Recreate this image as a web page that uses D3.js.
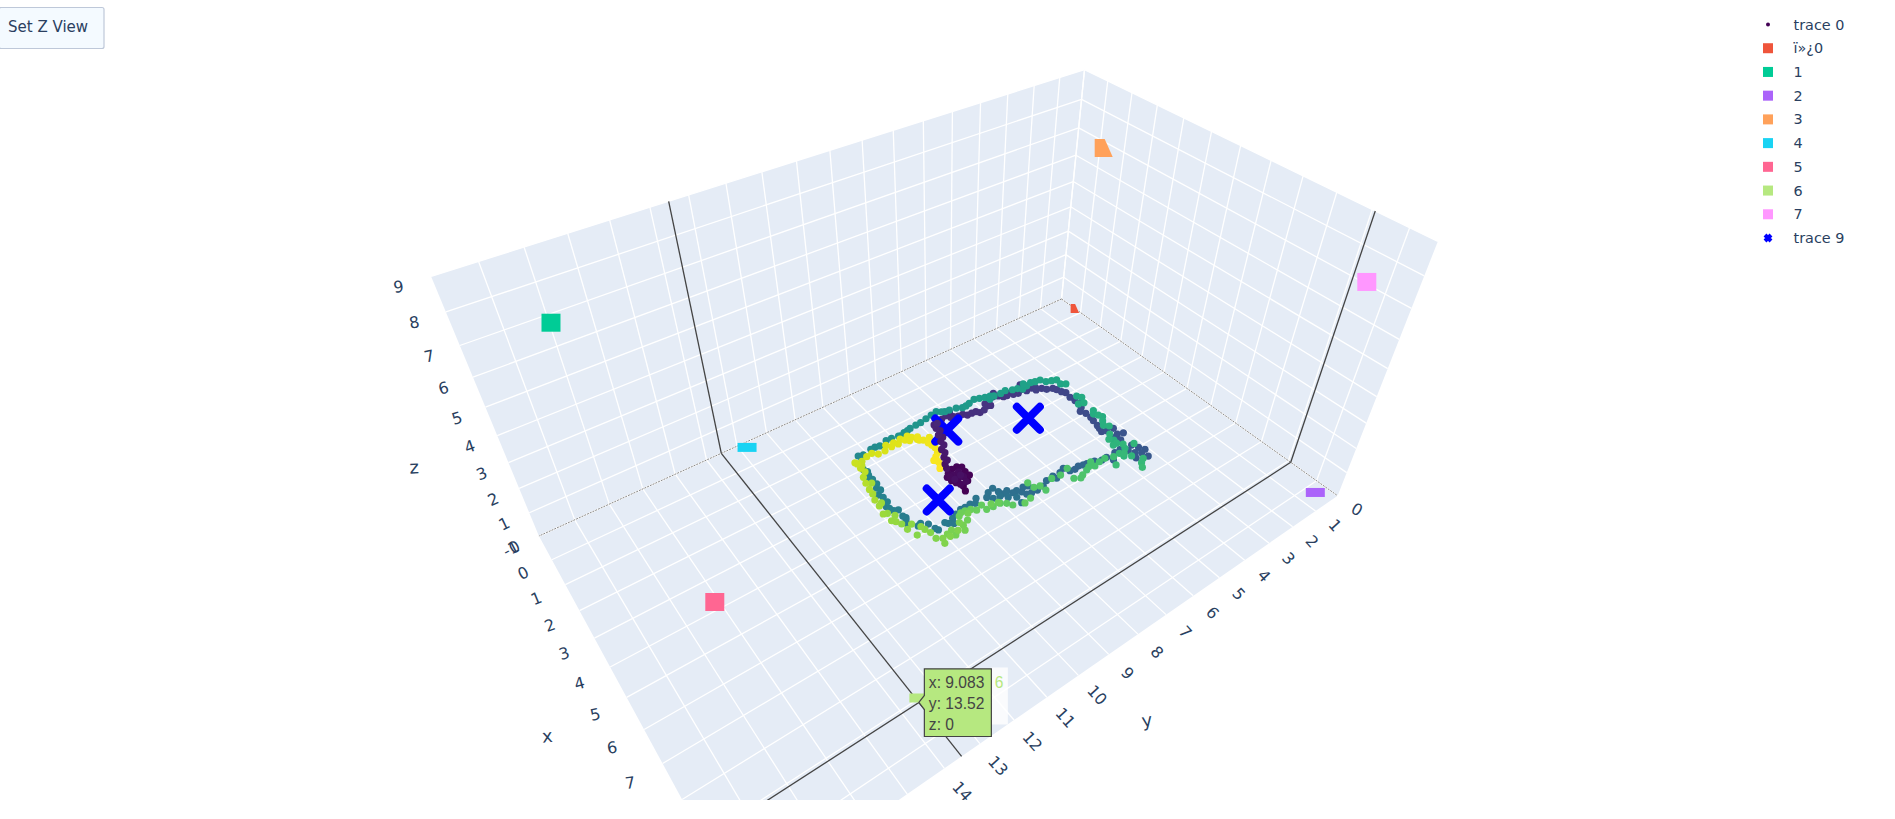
<!DOCTYPE html>
<html><head><meta charset="utf-8"><style>html,body{margin:0;background:#fff;overflow:hidden}svg{display:block}</style>
<script src="https://d3js.org/d3.v7.min.js"></script></head><body>
<svg id="c" width="1895" height="819"></svg>
<script>
// ---------- data ----------
const xTicks=[-1,0,1,2,3,4,5,6,7,8,9,10];
const yTicks=[0,1,2,3,4,5,6,7,8,9,10,11,12,13,14,15,16,17,18];
const zTicks=[0,1,2,3,4,5,6,7,8,9];
const xLabelTicks=[-1,0,1,2,3,4,5,6,7];
const yLabelTicks=[0,1,2,3,4,5,6,7,8,9,10,11,12,13,14];
const traceX=[4.41,4.22,4.13,3.98,3.80,3.60,3.50,3.50,3.57,3.68,3.86,4.00,4.12,3.90,3.71,3.69,3.93,4.13,3.70,3.87,3.83,
3.38,3.21,3.12,2.97,2.83,2.66,2.55,2.38,2.26,2.11,1.98,1.83,1.67,1.67,
1.50,1.72,1.78,1.80,1.91,1.92,1.94,2.05,2.03,1.93,1.82,1.58,1.77,1.89,1.86,1.99,2.04,1.76,2.10,2.10,2.25,2.29,2.42,2.50,
2.78,2.90,3.14,3.35,3.54,3.99,4.21,4.37,4.73,4.88,4.94,4.98,5.23,5.30,5.30,5.48,5.83,6.02,6.19,6.24,6.12,5.94,5.76,5.77,
5.97,5.77,5.77,5.55,5.59,5.55,5.36,5.44,5.55,5.42,5.45,5.56,5.58,5.56,5.52,5.37,5.25,5.25,5.09,5.10,4.98,4.78,4.84,4.96,5.09,5.14,5.31,5.45,5.69,4.81,4.88,4.90,4.89,4.95,5.02,5.19,5.10,5.02,5.13,5.03,4.80,4.65,4.69,4.32,4.15,3.89,3.84,3.70,3.46,3.25,2.97,2.71,2.49,2.28,
2.00,1.59,1.45,1.50,1.43,1.43,1.47,1.39,1.40,1.44,1.42,1.37,1.35,1.35,
1.22,1.38,1.40,1.55,1.51,1.45,1.51,1.58,1.74,1.69,1.72,1.70,1.97,1.92,1.87,1.92,1.95,2.12,2.19,2.26,2.48,2.58,
3.22,3.36,3.53,3.59,4.03,4.27,4.54,4.83,5.36,5.51,5.51,5.81,5.82,6.16,6.03,5.87,6.43,6.53,6.68,6.16,5.87,
5.77,5.78,5.83,5.63,5.81,5.89,5.84,5.43,5.52,5.47,5.72,5.50,5.44,5.20,5.61,5.46,5.35,5.34,5.31,5.10,5.17,5.05,5.00,4.99,5.06,5.31,5.39,5.56,5.55,5.34,5.39,5.61,5.44,5.33,5.08,4.90,4.94,4.53,4.62,4.37,4.21,4.11,3.82,
3.77,3.46,3.20,2.97,2.77,2.51,2.27,2.11,1.92,1.71,1.63,
1.62,1.59,1.73,1.73,1.70,1.72,1.70,1.72,1.89,2.02,2.03,2.34,2.48,2.70,2.81,3.02,3.27,
1.30,1.26,1.33,1.45,1.62,1.80,1.85,1.55,1.78,
1.60,1.55,1.70,1.98,1.70,1.92,1.95,2.15,2.62,
3.70,3.82,4.60,4.15,4.40,4.70,5.10,5.25,5.65,5.95,6.30,6.45,
5.68,5.62,5.60,5.75,5.95,5.30,5.25,5.70,5.75,5.15,5.30,5.22,4.95,5.12,5.25,5.45,5.50,4.75,4.45,4.25,4.00,3.60,3.40,3.10,2.85,2.60,2.40,2.15,1.85,1.70,
1.55,1.60,1.58,1.60,1.80,1.48,1.40,1.80,1.95,2.20,3.15,2.90];
const traceY=[8.54,8.47,8.24,8.06,8.08,8.05,8.16,8.34,8.52,8.64,8.62,8.56,8.49,8.40,8.44,8.24,8.24,8.30,8.56,8.51,8.27,
8.44,8.37,8.22,8.23,8.09,8.09,7.92,7.91,7.75,7.80,7.64,7.68,7.64,7.52,
6.92,6.93,6.79,6.63,6.53,6.37,6.22,6.14,5.96,5.78,5.76,5.23,5.18,5.07,4.84,4.74,4.58,4.27,4.28,4.07,4.01,3.81,3.71,3.52,
3.40,3.32,3.36,3.34,3.30,3.47,3.47,3.51,3.60,3.65,3.49,3.25,3.33,3.14,3.49,3.43,3.32,3.22,3.12,3.31,3.47,3.57,3.73,3.96,
4.21,4.30,4.49,5.23,5.40,5.56,5.65,5.85,6.08,6.11,6.38,6.60,6.84,7.04,7.19,7.25,7.34,7.48,7.57,7.77,7.79,7.84,8.05,8.20,8.07,7.86,7.70,7.50,7.52,8.47,8.74,8.93,9.08,9.29,9.46,9.54,9.67,9.73,10.03,10.07,10.13,10.29,10.40,10.55,10.54,10.51,10.63,10.68,10.59,10.59,10.49,10.45,10.45,10.45,
10.45,10.24,10.27,10.12,9.81,9.66,9.51,9.23,9.04,8.81,8.59,8.33,8.10,7.92,
7.23,7.01,6.85,6.31,6.15,5.91,5.74,5.57,5.50,5.29,5.04,4.84,4.34,4.13,3.92,3.77,3.58,3.48,3.30,3.14,3.17,3.03,
3.15,3.06,3.36,3.18,3.19,3.21,3.28,3.28,3.60,3.63,3.77,3.58,3.21,3.65,3.84,3.87,3.44,3.61,3.73,4.29,4.11,
4.37,4.60,4.83,4.81,5.14,5.37,5.67,5.56,5.90,6.20,6.64,6.67,6.85,6.88,7.78,7.88,8.03,8.27,8.48,8.50,8.73,8.85,9.01,9.15,9.26,9.16,9.37,9.44,9.75,9.74,9.92,10.17,10.11,10.26,10.26,10.32,10.61,10.51,10.71,10.73,10.81,10.89,10.83,
10.94,10.86,10.84,10.76,10.74,10.69,10.62,10.46,10.49,10.47,10.50,
10.08,9.88,9.74,9.50,9.24,9.01,8.75,8.52,8.43,8.30,8.08,8.22,8.20,8.27,8.41,8.47,8.60,
7.68,7.45,7.10,6.62,5.40,4.62,4.45,6.45,4.15,
7.30,7.10,7.02,5.66,5.35,4.95,4.40,3.95,3.46,
3.40,3.55,3.56,3.30,3.15,3.40,3.52,3.70,3.50,3.75,3.60,3.25,
4.70,4.95,5.08,5.00,5.50,6.95,7.10,7.20,7.45,7.65,8.05,8.25,8.60,9.00,9.40,9.60,9.90,10.35,10.60,10.50,10.70,10.72,10.75,10.65,10.55,10.55,10.50,10.40,10.40,10.30,
9.35,9.10,8.85,8.60,8.65,8.75,8.45,8.36,8.40,8.25,8.50,8.55];
const traceC=[0,0,0,.01,.01,.01,.01,.01,.02,.02,.02,.02,.02,.02,.03,.03,.03,.03,.03,.04,.04,
.05,.05,.06,.06,.07,.07,.08,.08,.08,.09,.09,.10,.10,.11,
.12,.12,.13,.13,.13,.14,.14,.14,.15,.15,.15,.16,.16,.16,.17,.17,.17,.18,.18,.18,.19,.19,.20,.20,
.21,.21,.22,.22,.22,.23,.23,.24,.24,.24,.25,.25,.25,.26,.26,.26,.27,.27,.27,.28,.28,.29,.29,.30,
.31,.31,.32,.32,.32,.33,.33,.33,.34,.34,.34,.34,.35,.35,.35,.35,.36,.36,.36,.36,.37,.37,.37,.37,.38,.38,.38,.38,.38,.39,.39,.39,.39,.40,.40,.40,.40,.41,.41,.41,.41,.42,.42,.42,.42,.43,.43,.43,.44,.44,.44,.45,.45,.45,
.46,.46,.47,.47,.48,.48,.49,.49,.50,.50,.51,.51,.52,.52,
.53,.53,.53,.54,.54,.54,.55,.55,.55,.56,.56,.56,.57,.57,.57,.58,.58,.58,.59,.59,.59,.60,
.60,.61,.61,.62,.62,.63,.63,.64,.64,.65,.65,.65,.66,.66,.66,.67,.67,.67,.68,.68,.69,
.70,.70,.71,.71,.71,.72,.72,.72,.73,.73,.73,.74,.74,.74,.75,.75,.75,.76,.76,.76,.77,.77,.77,.78,.78,.78,.79,.79,.79,.80,.80,.81,.81,.81,.82,.82,.82,.83,.83,.83,.84,.84,.84,
.85,.86,.87,.87,.88,.89,.89,.90,.91,.92,.92,
.93,.93,.94,.94,.95,.95,.96,.96,.96,.97,.97,.98,.98,.98,.99,.99,1,
.52,.52,.53,.53,.55,.57,.57,.53,.57,
.115,.12,.12,.15,.16,.16,.17,.19,.20,
.23,.23,.24,.62,.62,.63,.65,.65,.66,.67,.27,.27,
.32,.32,.33,.71,.72,.35,.35,.75,.76,.37,.77,.78,.39,.79,.80,.81,.81,.83,.41,.41,.84,.42,.85,.43,.43,.86,.44,.45,.90,.91,
.94,.95,.95,.96,.96,.49,.50,.97,.97,.98,.99,.99];
const catNames=["ï»¿0","1","2","3","4","5","6","7"];
const catX=[0.01,-1,10.38,0.18,-0.61,4.46,9.083,9.46];
const catY=[0.03,16.96,0.56,0,12.87,16.3,13.52,0];
const catZ=[0,6.74,0,6.79,0,1,0,7.06];
const catColors=["#EF553B","#00CC96","#AB63FA","#FFA15A","#19D3F3","#FF6692","#B6E880","#FF97FF"];
const centerX=[3.12,2.08,4.24];
const centerY=[5.08,7.46,9.38];
const legendNames=["trace 0",...catNames,"trace 9"];
const hover={x:9.083,y:13.52,z:0,label:"6"};

// ---------- scene: data → unit cube → picture ----------
const xMin=-1,xMax=10.72,yMin=0,yMax=19,zMin=0,zMax=9;
const U=d3.scaleLinear([xMin,xMax],[0,1]),V=d3.scaleLinear([yMin,yMax],[0,1]),T=d3.scaleLinear([zMin,zMax],[0,1]);
function proj(x,y,z){const u=U(x),v=V(y),t=T(z),w=1-.2062*u-.2439*v-.16*t;
  return [(.3*u-654*v-150.5*t+1061.5)/w,(94.5*u+106.3*v-240.5*t+299)/w];}
const ink="#2a3f5f",gridC="#ffffff",wall="#e5ecf6";
const svg=d3.select("#c");
svg.append("defs").append("clipPath").attr("id","plotClip").append("rect").attr("width",1895).attr("height",800);
const g=svg.append("g").attr("clip-path","url(#plotClip)");
const line=(a,b)=>"M"+a+"L"+b;
function quad(pts){return "M"+pts.map(p=>proj(...p)).join("L")+"Z";}
// walls
g.append("path").attr("fill",wall).attr("d",quad([[xMin,yMin,0],[xMin,yMax,0],[xMin,yMax,zMax],[xMin,yMin,zMax]]));
g.append("path").attr("fill",wall).attr("d",quad([[xMin,yMin,0],[xMax,yMin,0],[xMax,yMin,zMax],[xMin,yMin,zMax]]));
g.append("path").attr("fill",wall).attr("d",quad([[xMin,yMin,0],[xMax,yMin,0],[xMax,yMax,0],[xMin,yMax,0]]));
// grid
const gridSegs=[];
xTicks.forEach(x=>{gridSegs.push([[x,yMin,0],[x,yMax,0]],[[x,yMin,0],[x,yMin,zMax]]);});
yTicks.forEach(y=>{gridSegs.push([[xMin,y,0],[xMax,y,0]],[[xMin,y,0],[xMin,y,zMax]]);});
zTicks.forEach(z=>{gridSegs.push([[xMin,yMin,z],[xMax,yMin,z]],[[xMin,yMin,z],[xMin,yMax,z]]);});
g.append("g").selectAll("path").data(gridSegs).join("path").attr("fill","none").attr("stroke",gridC).attr("stroke-width",1.3)
 .attr("d",d=>line(proj(...d[0]),proj(...d[1])));
// hover spikes
const spikeFine=[[[xMin,yMin,0],[xMax,yMin,0]],[[xMin,yMin,0],[xMin,yMax,0]]];
const spikeMain=[[[hover.x,yMin,0],[hover.x,yMax,0]],[[xMin,hover.y,0],[xMax,hover.y,0]],
 [[hover.x,yMin,0],[hover.x,yMin,zMax]],[[xMin,hover.y,0],[xMin,hover.y,zMax]]];
g.append("g").selectAll("path").data(spikeFine).join("path").attr("fill","none").attr("stroke","#888").attr("stroke-width",1).attr("stroke-dasharray","2 1")
 .attr("d",d=>line(proj(...d[0]),proj(...d[1])));
g.append("g").selectAll("path").data(spikeMain).join("path").attr("fill","none").attr("stroke","#444").attr("stroke-width",1.3)
 .attr("d",d=>line(proj(...d[0]),proj(...d[1])));
// tick labels
const font="'DejaVu Sans',Verdana,sans-serif";
function label(p,txt,rot,size){g.append("text").attr("transform",`translate(${p[0]},${p[1]}) rotate(${rot})`)
  .attr("text-anchor","middle").attr("dominant-baseline","central").attr("fill",ink).attr("font-family",font).attr("font-size",size).text(txt);}
xLabelTicks.forEach(x=>label(proj(x,yMax*1.04,0),x<0?"-"+Math.abs(x):x,-28+2.6*(x+1),16));
yLabelTicks.forEach(y=>label(proj(xMin+(xMax-xMin)*1.055,y,0),y,y==0?30:48,16));
zTicks.forEach(z=>label(proj(xMin,yMax*1.035,z),z,-28+2.2*z,16));
label(proj(4.87,20.84,0),"x",-5,18);label(proj(12.5,9.51,0),"y",-8,18);label(proj(xMin,20.94,4.05),"z",-3,18);
// category squares
const cutOffset={"ï»¿0":-1,"3":4.5};
function squarePath(name,z){const h=9.5,v=9,yb=z===0?0:v,c=cutOffset[name];
  if(c===undefined) return `M${-h},${-v}H${h}V${yb}H${-h}Z`;
  return `M${-h},${-v}H${c-.444*v}L${c+.444*yb},${yb}H${-h}Z`;}
// centre crosses, trajectory
const viridis=d3.scaleSequential(d3.interpolateViridis).domain([0,1]);
const idx=d3.range(traceX.length).sort((a,b)=>traceC[a]-traceC[b]);
const blobEnd=.115;
const dots=(sel,ids)=>sel.selectAll("circle").data(ids).join("circle").attr("cx",i=>proj(traceX[i],traceY[i],0)[0]).attr("cy",i=>proj(traceX[i],traceY[i],0)[1])
  .attr("r",3.6).attr("fill",i=>viridis(traceC[i]));
dots(g.append("g"),idx.filter(i=>traceC[i]>=blobEnd));
g.append("g").selectAll("path").data(d3.range(centerX.length)).join("path").attr("fill","none").attr("stroke","#0000ff").attr("stroke-width",8).attr("stroke-linecap","round")
 .attr("transform",i=>`translate(${proj(centerX[i],centerY[i],0)})`).attr("d","M-11.5,-11.5L11.5,11.5M-11.5,11.5L11.5,-11.5");
dots(g.append("g"),idx.filter(i=>traceC[i]<blobEnd));
g.append("g").selectAll("path").data(d3.range(catNames.length)).join("path")
 .attr("transform",i=>`translate(${proj(catX[i],catY[i],catZ[i])})`).attr("d",i=>squarePath(catNames[i],catZ[i])).attr("fill",i=>catColors[i]);
// hover box
const P=proj(hover.x,hover.y,hover.z);
const hg=svg.append("g").attr("transform",`translate(${P})`);
hg.append("rect").attr("x",72.5).attr("y",-35).attr("width",16.5).attr("height",57).attr("fill","rgba(255,255,255,.8)");
hg.append("path").attr("d","M0,0L5.5,-7V-33.7H72.5V34H5.5V7Z").attr("fill",catColors[6]).attr("stroke","#444").attr("stroke-width",1.2);
const hFont="'Liberation Sans',Arial,sans-serif";
[["x: "+hover.x,-20.3],["y: "+hover.y,0.6],["z: "+hover.z,22.5]].forEach(d=>hg.append("text").attr("x",10).attr("y",d[1]).attr("dominant-baseline","central").attr("font-family",hFont).attr("font-size",15.6).attr("fill","#444").text(d[0]));
hg.append("text").attr("x",76).attr("y",-20.3).attr("dominant-baseline","central").attr("font-family",hFont).attr("font-size",15.6).attr("fill",catColors[6]).text(hover.label);
// legend
const legendY=d3.scalePoint(legendNames,[24.5,238]);
const lg=svg.append("g").selectAll("g").data(legendNames).join("g").attr("transform",d=>`translate(0,${legendY(d)})`);
lg.append("text").attr("x",1793.5).attr("dominant-baseline","central").attr("font-family",font).attr("font-size",14.4).attr("fill",ink).text(d=>d);
lg.each(function(d,i){const s=d3.select(this);
  if(i===0) s.append("circle").attr("cx",1768).attr("r",2).attr("fill","#440154");
  else if(i===legendNames.length-1) s.append("path").attr("transform","translate(1768,0)").attr("d","M-3,-3L3,3M-3,3L3,-3").attr("stroke","#0000ff").attr("stroke-width",4).attr("fill","none");
  else s.append("rect").attr("x",1763).attr("y",-5).attr("width",10).attr("height",10).attr("fill",catColors[i-1]);});
// button
svg.append("rect").attr("x",-1).attr("y",7.5).attr("width",105).attr("height",41).attr("rx",2).attr("fill","#f4faff").attr("stroke","#bec8d9").attr("stroke-width",1.2);
svg.append("text").attr("x",8).attr("y",27).attr("dominant-baseline","central").attr("font-family",font).attr("font-size",15).attr("fill",ink).text("Set Z View");
</script></body></html>
